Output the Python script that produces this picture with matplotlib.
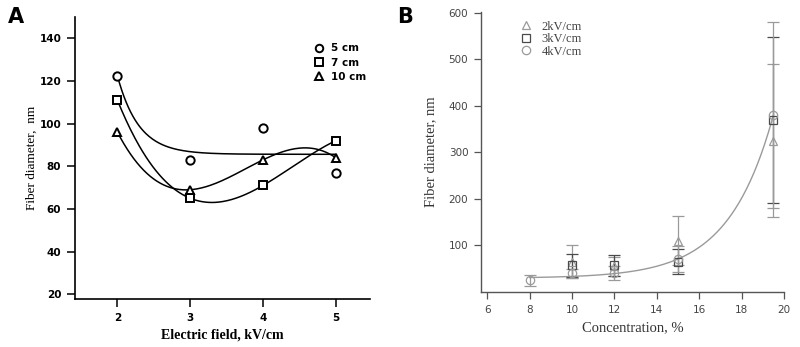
import numpy as np
import matplotlib
matplotlib.use("Agg")
import matplotlib.pyplot as plt

# ---- panel A data: fiber diameter vs electric field ----
field_kv = [2, 3, 4, 5]
diam_5cm = [122.5, 83, 98, 77]
diam_7cm = [111, 65, 71, 92]
diam_10cm = [96, 69, 83, 84]

# ---- panel B data: fiber diameter vs concentration ----
conc_2kv = [10, 12, 15, 19.5]
diam_2kv = [65, 55, 110, 325]
err_2kv = [35, 20, 53, 164]

conc_3kv = [10, 12, 15, 19.5]
diam_3kv = [57, 57, 65, 370]
err_3kv = [24, 22, 27, 178]

conc_4kv = [8, 10, 12, 15, 19.5]
diam_4kv = [25, 40, 40, 70, 380]
err_4kv = [12, 10, 15, 28, 200]


def exp_decay_fit(x, y, k):
    # y = a + b*exp(-k*(x - x0)), linear least squares for a, b
    x = np.asarray(x, float)
    basis = np.column_stack([np.ones_like(x), np.exp(-k * (x - x[0]))])
    coef, *_ = np.linalg.lstsq(basis, np.asarray(y, float), rcond=None)
    return lambda t: coef[0] + coef[1] * np.exp(-k * (t - x[0]))


def exp_growth_fit(x, y):
    # y = a + b*exp(c*x), grid search over c
    x = np.asarray(x, float)
    y = np.asarray(y, float)
    best = None
    for c in np.linspace(0.2, 1.0, 161):
        basis = np.column_stack([np.ones_like(x), np.exp(c * x)])
        coef, *_ = np.linalg.lstsq(basis, y, rcond=None)
        res = np.sum((basis @ coef - y) ** 2)
        if best is None or res < best[0]:
            best = (res, c, coef)
    _, c, coef = best
    return lambda t: coef[0] + coef[1] * np.exp(c * t)


fig = plt.figure(figsize=(8, 3.47), dpi=100)

# ================= panel A =================
axA = fig.add_axes([0.094, 0.138, 0.3685, 0.813])
xs = np.linspace(2, 5, 200)
f5 = exp_decay_fit(field_kv, diam_5cm, 3.4)
axA.plot(xs, f5(xs), color="black", lw=1.1)
for d in (diam_7cm, diam_10cm):
    p = np.polyfit(field_kv, d, 3)
    axA.plot(xs, np.polyval(p, xs), color="black", lw=1.1)

mk = dict(ls="none", mfc="white", mec="black", mew=1.4, ms=6)
axA.plot(field_kv, diam_5cm, marker="o", label="5 cm", **mk)
axA.plot(field_kv, diam_7cm, marker="s", label="7 cm", **mk)
axA.plot(field_kv, diam_10cm, marker="^", label="10 cm", **mk)

axA.set_xlim(1.42, 5.47)
axA.set_ylim(17.7, 150)
axA.set_xticks([2, 3, 4, 5])
axA.set_yticks([20, 40, 60, 80, 100, 120, 140])
for s in ("top", "right"):
    axA.spines[s].set_visible(False)
for s in ("left", "bottom"):
    axA.spines[s].set_linewidth(1.2)
axA.tick_params(direction="out", length=6, width=1.1, labelsize=7.5, pad=4)
for lab in axA.get_xticklabels() + axA.get_yticklabels():
    lab.set_fontweight("bold")
axA.set_xlabel("Electric field, kV/cm", family="Liberation Serif",
               fontweight="bold", fontsize=10, labelpad=4)
axA.set_ylabel("Fiber diameter,  nm", family="Liberation Serif",
               fontsize=9.5, labelpad=1)
legA = axA.legend(loc="upper right", bbox_to_anchor=(1.02, 0.94), frameon=False,
                  prop=dict(weight="bold", size=7.5), handletextpad=0.7,
                  handlelength=1.0, labelspacing=0.42, markerscale=0.9)
fig.text(0.01, 0.95, "A", fontsize=15, fontweight="bold", va="center")

# ================= panel B =================
gray = "#9a9a9a"
dark = "#4a4a4a"
axB = fig.add_axes([0.601, 0.1585, 0.379, 0.8065])

fB = exp_growth_fit(conc_4kv, diam_4kv)
xb = np.linspace(8, 19.5, 200)
axB.plot(xb, fB(xb), color=gray, lw=1.0)

ekw = dict(ls="none", capsize=4, elinewidth=0.9, capthick=0.9, ms=6, mfc="none", mew=0.9)
axB.errorbar(conc_2kv, diam_2kv, yerr=err_2kv, marker="^", color=gray, mec=gray,
             label="2kV/cm", **ekw)
axB.errorbar(conc_3kv, diam_3kv, yerr=err_3kv, marker="s", color=dark, mec=dark,
             label="3kV/cm", **ekw)
axB.errorbar(conc_4kv, diam_4kv, yerr=err_4kv, marker="o", color=gray, mec=gray,
             label="4kV/cm", **ekw)

axB.set_xlim(5.7, 20)
axB.set_ylim(0, 601)
axB.set_xticks([6, 8, 10, 12, 14, 16, 18, 20])
axB.set_yticks([100, 200, 300, 400, 500, 600])
for s in ("top", "right"):
    axB.spines[s].set_visible(False)
for s in ("left", "bottom"):
    axB.spines[s].set_color("#555555")
    axB.spines[s].set_linewidth(1.0)
axB.tick_params(direction="out", length=5, width=0.9, labelsize=7.5,
                colors="#555555", labelcolor="#444444", pad=4)
axB.set_xlabel("Concentration, %", family="Liberation Serif", fontsize=10.5,
               color="#333333", labelpad=5)
axB.set_ylabel("Fiber diameter, nm", family="Liberation Serif", fontsize=10.5,
               color="#333333", labelpad=8)
handles, labels = axB.get_legend_handles_labels()
handles = [h[0] for h in handles]
axB.legend(handles, labels, loc="upper left", bbox_to_anchor=(0.09, 1.01), frameon=False,
           prop=dict(family="Liberation Serif", size=9), handlelength=1.0,
           handletextpad=0.8, labelspacing=0.05, labelcolor="#444444")
fig.text(0.497, 0.95, "B", fontsize=15, fontweight="bold", va="center")

fig.savefig("out.png", dpi=100)
